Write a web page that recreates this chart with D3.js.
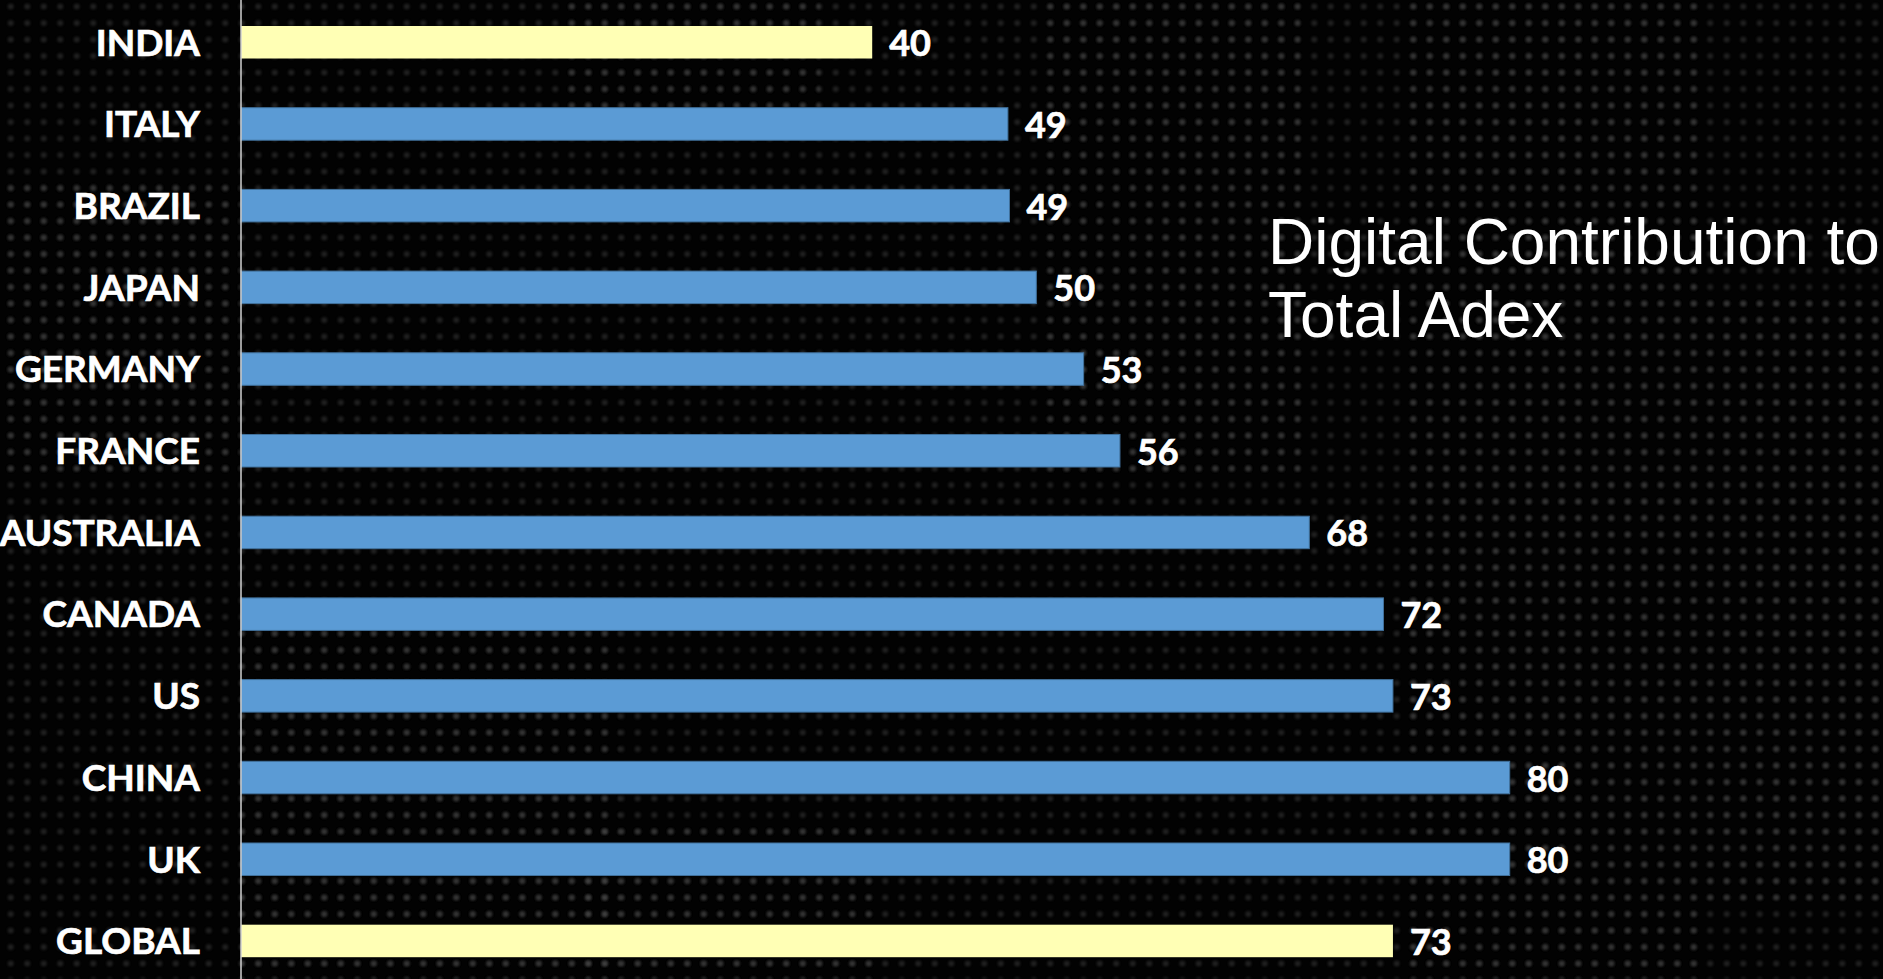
<!DOCTYPE html>
<html>
<head>
<meta charset="utf-8">
<script src="https://cdn.jsdelivr.net/npm/d3@7"></script>
<style>
  html, body { margin: 0; padding: 0; background: #000; overflow: hidden; }
  svg { display: block; }
</style>
</head>
<body>
<svg width="1883" height="979"></svg>
<script>
// chart data
const countries = ["INDIA", "ITALY", "BRAZIL", "JAPAN", "GERMANY", "FRANCE",
  "AUSTRALIA", "CANADA", "US", "CHINA", "UK", "GLOBAL"];
const digitalShare = [40.0, 48.6, 48.7, 50.4, 53.4, 55.7, 67.7, 72.4, 73.0, 80.4, 80.4, 73.0];
const highlighted = ["INDIA", "GLOBAL"];
const titleLines = ["Digital Contribution to", "Total Adex"];

var svg = d3.select("svg"),
  width = +svg.attr("width"),
  height = +svg.attr("height"),
  axisX = 241;

// ===========================================================================
// BACKGROUND (dotted panel texture)
// ===========================================================================
var defs = svg.append("defs");
defs.append("filter").attr("id", "soft")
  .append("feGaussianBlur").attr("stdDeviation", 1.1);

var pat = defs.append("pattern")
  .attr("id", "dots")
  .attr("patternUnits", "userSpaceOnUse")
  .attr("width", 16.5)
  .attr("height", 16.5)
  .attr("x", 2.5)
  .attr("y", 14.8);
pat.append("circle").attr("cx", 8.25).attr("cy", 8.25).attr("r", 3.2).attr("fill", "#3a3a3a");
pat.append("circle").attr("cx", 8.25).attr("cy", 8.25).attr("r", 1.8).attr("fill", "#555");

svg.append("rect").attr("width", width).attr("height", height).attr("fill", "#020202");
svg.append("rect").attr("width", width).attr("height", height)
  .attr("fill", "url(#dots)").attr("opacity", 0.4).attr("filter", "url(#soft)");

// a few brighter patches of the texture
[[560, 0, 260, 110], [1040, 0, 260, 480], [1400, 0, 300, 979], [0, 180, 240, 300],
 [240, 620, 380, 359], [1700, 300, 183, 600], [580, 820, 300, 159]].forEach(function (r) {
  svg.append("rect")
    .attr("x", r[0]).attr("y", r[1]).attr("width", r[2]).attr("height", r[3])
    .attr("fill", "url(#dots)").attr("opacity", 0.45).attr("filter", "url(#soft)");
});

// ===========================================================================
// SCALES
// ===========================================================================
var xScale = d3.scaleLinear().domain([0, 100]).range([axisX, axisX + 1578]);

var yScale = d3.scaleBand()
  .domain(countries)
  .range([1.4, 981.8])
  .paddingInner(0.602)
  .paddingOuter(0.301);

var g = svg.append("g");

// ===========================================================================
// BARS
// ===========================================================================
g.selectAll(".bar")
  .data(countries)
  .enter()
  .append("rect")
  .attr("class", "bar")
  .attr("x", xScale(0))
  .attr("y", (d) => yScale(d))
  .attr("width", (d, i) => xScale(digitalShare[i]) - xScale(0))
  .attr("height", yScale.bandwidth())
  .attr("fill", (d) => highlighted.includes(d) ? "#ffffb5" : "#5b9bd5")
  .attr("stroke", (d) => highlighted.includes(d) ? "none" : "#41719c")
  .attr("stroke-width", 1);

// value labels
g.selectAll(".value")
  .data(countries)
  .enter()
  .append("text")
  .attr("class", "value")
  .attr("x", (d, i) => xScale(digitalShare[i]) + 17)
  .attr("y", (d) => yScale(d) + yScale.bandwidth() / 2 + 14)
  .attr("fill", "#fff")
  .attr("stroke", "#fff")
  .attr("stroke-width", 0.7)
  .style("font-family", "Lato, 'Open Sans', sans-serif")
  .style("font-weight", "bold")
  .style("font-size", "36px")
  .text((d, i) => Math.round(digitalShare[i]));

// ===========================================================================
// Y-AXIS
// ===========================================================================
var yAxis = g.append("g")
  .attr("transform", "translate(" + axisX + ",0)")
  .call(d3.axisLeft(yScale).tickSize(0).tickPadding(41));

yAxis.select(".domain").remove();
yAxis.append("line")
  .attr("x1", 0).attr("x2", 0)
  .attr("y1", 0).attr("y2", height)
  .attr("stroke", "#d0d0d0")
  .attr("stroke-width", 1.5);

yAxis.selectAll(".tick text")
  .attr("fill", "#fff")
  .attr("stroke", "#fff")
  .attr("stroke-width", 0.7)
  .attr("dy", "0.36em")
  .style("font-family", "Lato, 'Open Sans', sans-serif")
  .style("font-weight", "bold")
  .style("font-size", "37px");

// ===========================================================================
// TITLE
// ===========================================================================
svg.append("g")
  .selectAll("text")
  .data(titleLines)
  .enter()
  .append("text")
  .attr("x", 1268)
  .attr("y", (d, i) => 264 + i * 72.7)
  .attr("fill", "#fff")
  .style("font-family", "'Liberation Sans', Arial, sans-serif")
  .style("font-size", "64px")
  .text((d) => d);
</script>
</body>
</html>
